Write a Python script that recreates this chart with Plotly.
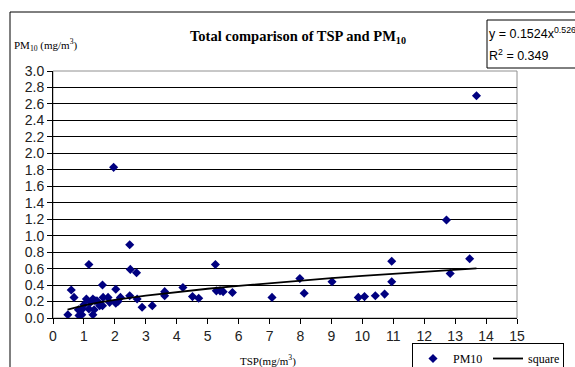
import plotly.graph_objects as go

# ---- data ----
tsp = [0.48, 0.59, 0.68, 0.82, 0.84, 0.93, 0.95, 1.00, 1.08, 1.16, 1.16, 1.21, 1.29, 1.29,
       1.33, 1.36, 1.42, 1.51, 1.60, 1.62, 1.60, 1.78, 1.83, 1.96, 2.03, 2.03, 2.10, 2.18,
       2.48, 2.50, 2.70, 2.48, 2.72, 2.88, 3.21, 3.61, 3.61, 4.20, 4.51, 4.71, 5.25, 5.28,
       5.40, 5.50, 5.80, 7.08, 7.98, 8.12, 9.02, 9.87, 10.07, 10.42, 10.72, 10.95, 10.95,
       12.72, 12.84, 13.47, 13.69]
pm10 = [0.04, 0.34, 0.25, 0.10, 0.03, 0.04, 0.11, 0.16, 0.23, 0.65, 0.11, 0.19, 0.23, 0.04,
        0.10, 0.21, 0.21, 0.15, 0.40, 0.25, 0.15, 0.25, 0.19, 1.83, 0.35, 0.18, 0.20, 0.25,
        0.89, 0.59, 0.55, 0.27, 0.23, 0.13, 0.15, 0.32, 0.27, 0.37, 0.26, 0.24, 0.65, 0.33,
        0.33, 0.32, 0.31, 0.25, 0.48, 0.30, 0.44, 0.25, 0.26, 0.27, 0.29, 0.69, 0.44,
        1.19, 0.54, 0.72, 2.70]

# power trendline shown in the chart: y = a * x^b
coef_a = 0.1524
coef_b = 0.526
r2 = 0.349
trend_x = [0.47, 0.75, 1.0, 1.5, 2.0, 3.0, 4.0, 5.0, 6.0, 7.0, 8.0, 9.0, 10.0, 11.0, 12.0, 13.0, 13.69]
trend_y = [coef_a * v ** coef_b for v in trend_x]

x_ticks = list(range(0, 16))
y_ticks = [round(i * 0.2, 1) for i in range(0, 16)]

SERIF = "Liberation Serif"
SANS = "Liberation Sans"

# pixel helpers for layout placement (plot area: x 53..517, y 71..318)
def px(x):
    return (x - 53) / 464

def py(y):
    return (318 - y) / 247

fig = go.Figure()
fig.add_trace(go.Scatter(
    x=tsp, y=pm10, mode="markers", name="PM10",
    marker=dict(symbol="diamond", size=7, color="#000080", line=dict(width=0)),
))
fig.add_trace(go.Scatter(
    x=trend_x, y=trend_y, mode="lines", name="square",
    line=dict(color="black", width=1.8),
))

fig.update_layout(
    width=575, height=367,
    margin=dict(l=53, r=58, t=71, b=49, autoexpand=False),
    paper_bgcolor="white", plot_bgcolor="white",
    title=dict(
        text="Total comparison of TSP and PM<sub>10</sub>",
        font=dict(family=SERIF, size=14.5, color="black", weight="bold"),
        x=0.528, xanchor="center", xref="paper",
        y=1 - 36 / 367, yanchor="middle", yref="container",
    ),
    showlegend=True,
    legend=dict(
        orientation="h", x=px(412), xanchor="left",
        y=py(343), yanchor="top",
        bordercolor="black", borderwidth=1, bgcolor="white",
        font=dict(family=SERIF, size=12, color="black"),
        itemwidth=30, tracegroupgap=0,
        entrywidth=30, entrywidthmode="pixels",
    ),
    xaxis=dict(
        range=[0, 15], tickvals=x_ticks, ticktext=[str(v) for v in x_ticks],
        showgrid=False, zeroline=False,
        showline=True, linecolor="black", linewidth=1,
        ticks="outside", ticklen=5, tickcolor="black",
        tickfont=dict(family=SANS, size=14, color="#222"),
    ),
    yaxis=dict(
        range=[0, 3.0], tickvals=y_ticks, ticktext=[f"{v:.1f}" for v in y_ticks],
        showgrid=True, gridcolor="black", gridwidth=1, zeroline=False,
        showline=True, linecolor="black", linewidth=1,
        ticks="outside", ticklen=5, tickcolor="black",
        tickfont=dict(family=SANS, size=14, color="#222"),
    ),
    shapes=[
        # outer chart border
        dict(type="rect", xref="paper", yref="paper",
             x0=px(10), x1=1.3, y0=-0.5, y1=py(12),
             line=dict(color="black", width=1), layer="below"),
        # plot area border
        dict(type="rect", xref="paper", yref="paper", x0=0, x1=1, y0=0, y1=1,
             line=dict(color="#909090", width=1), layer="below"),
        # trendline equation box
        dict(type="rect", xref="paper", yref="paper",
             x0=px(487), x1=px(620), y0=py(68), y1=py(20),
             line=dict(color="black", width=1), fillcolor="white"),
    ],
    annotations=[
        dict(text="PM<sub>10</sub> (mg/m<sup>3</sup>)", xref="paper", yref="paper",
             x=px(12), y=py(45), xanchor="left", yanchor="middle",
             showarrow=False, font=dict(family=SERIF, size=11, color="black")),
        dict(text="TSP(mg/m<sup>3</sup>)", xref="paper", yref="paper",
             x=px(268), y=py(360), xanchor="center", yanchor="middle",
             showarrow=False, font=dict(family=SERIF, size=11, color="black")),
        dict(text=f"y = {coef_a}x<sup>{coef_b}</sup>",
             xref="paper", yref="paper", align="left",
             x=px(487), y=py(33), xanchor="left", yanchor="middle",
             showarrow=False, font=dict(family=SANS, size=12.5, color="black")),
        dict(text=f"R<sup>2</sup> = {r2}",
             xref="paper", yref="paper", align="left",
             x=px(487), y=py(55), xanchor="left", yanchor="middle",
             showarrow=False, font=dict(family=SANS, size=12.5, color="black")),
    ],
)

fig.write_html("out.html", config={"displayModeBar": False},
               post_script="document.body.style.margin='0';")
